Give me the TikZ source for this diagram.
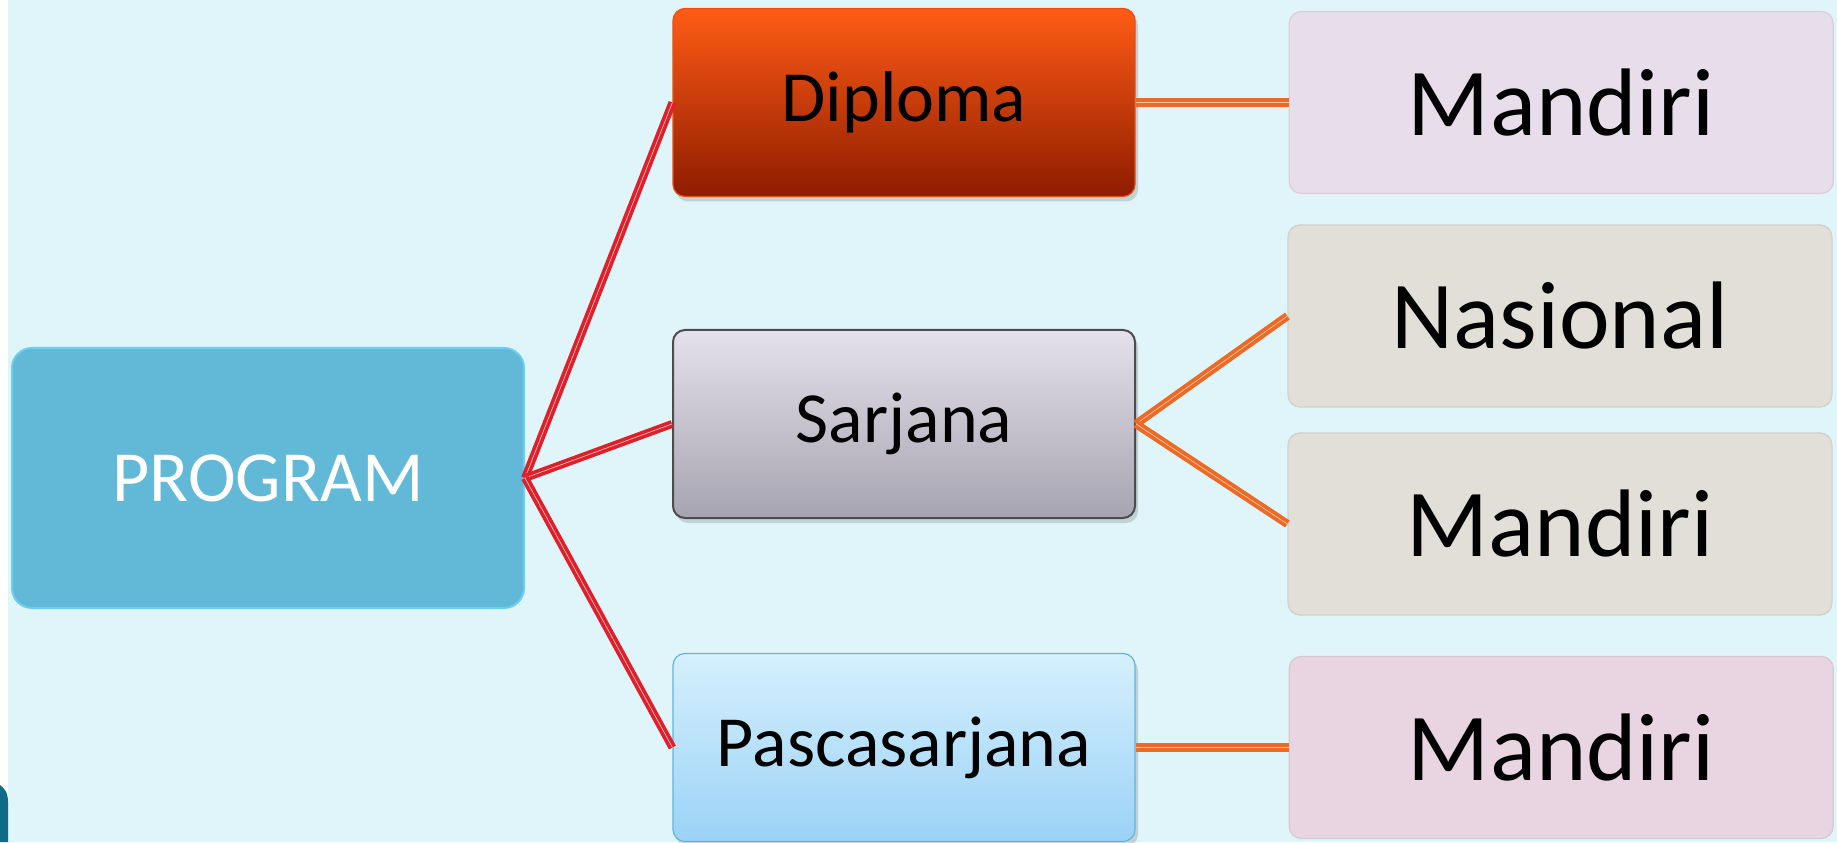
\documentclass[tikz,border=0pt]{standalone}
\usepackage{fontspec}
\setmainfont{Carlito}
\usetikzlibrary{positioning,shadows}

\definecolor{bgcyan}{HTML}{DFF5F9}
\definecolor{tealblob}{HTML}{0F6B86}
\definecolor{progblue}{HTML}{62B8D7}
\definecolor{progedge}{HTML}{6CCFEF}
\definecolor{linered}{HTML}{DF1F2A}
\definecolor{lineorange}{HTML}{EC6A24}
\definecolor{diptop}{HTML}{FF5C16}
\definecolor{dipbot}{HTML}{8E1C00}
\definecolor{sartop}{HTML}{E4E1EC}
\definecolor{sarbot}{HTML}{A7A4B1}
\definecolor{pastop}{HTML}{D5F0FD}
\definecolor{pasbot}{HTML}{9BD2F6}
\definecolor{pasedge}{HTML}{62B4D8}
\definecolor{lavender}{HTML}{E8DDEB}
\definecolor{linen}{HTML}{E1DFD8}
\definecolor{rosegray}{HTML}{E8D5E1}

\begin{document}
\begin{tikzpicture}[
    x=0.5pt, y=0.5pt,
    box/.style={rectangle, rounded corners=6pt, minimum width=231pt, minimum height=94pt, font=\fontsize{36}{40}\selectfont, line width=0.6pt, drop shadow={opacity=0.3, shadow xshift=1.5pt, shadow yshift=-2.5pt}},
    leaf/.style={rectangle, draw, rounded corners=6pt, minimum width=272pt, minimum height=91pt, font=\fontsize{48}{54}\selectfont, line width=0.6pt},
    redline/.style={draw=linered, line width=1.8pt, double=white!70!linered, double distance=0.35pt},
    orangeline/.style={draw=lineorange, line width=1.9pt, double=white!60!lineorange, double distance=0.35pt}
]
\useasboundingbox (0,0) rectangle (1837,842);

% Background
\fill[bgcyan] (8,0) rectangle (1837,842);
\fill[white] (0,0) rectangle (8,842);
\fill[tealblob] (0,0) -- (8,0) -- (8,40) .. controls (8,50) and (4,54) .. (0,57) -- cycle;

% Nodes
\node [rectangle, rounded corners=10pt, minimum width=256pt, minimum height=130pt, fill=progblue, draw=progedge, line width=1pt, text=white, font=\fontsize{36}{40}\selectfont] (program) at (268,364) {PROGRAM};
\node [box, top color=diptop, bottom color=dipbot, draw=diptop!80!dipbot] (diploma) at (904,739.5) {Diploma};
\node [box, top color=sartop, bottom color=sarbot, draw=black!70, line width=1pt] (sarjana) at (904,418) {Sarjana};
\node [box, top color=pastop, bottom color=pasbot, draw=pasedge] (pasca) at (904,94.5) {Pascasarjana};

\node [leaf, right=76.5pt of diploma, fill=lavender, draw=lavender!85!gray] (mandiriA) {Mandiri};
\node [leaf, fill=linen, draw=linen!85!gray] (nasional) at (1560,526) {Nasional};
\node [leaf, fill=linen, draw=linen!85!gray] (mandiriB) at (1560,318) {Mandiri};
\node [leaf, right=76.5pt of pasca, fill=rosegray, draw=rosegray!85!gray] (mandiriC) {Mandiri};

% Connections - Program to levels
\draw [redline] (program.east) -- (diploma.west);
\draw [redline] (program.east) -- (sarjana.west);
\draw [redline] (program.east) -- (pasca.west);

% Connections - levels to selection routes
\draw [orangeline] (diploma.east) -- (mandiriA.west);
\draw [orangeline] (sarjana.east) -- (nasional.west);
\draw [orangeline] (sarjana.east) -- (mandiriB.west);
\draw [orangeline] (pasca.east) -- (mandiriC.west);

\end{tikzpicture}
\end{document}
